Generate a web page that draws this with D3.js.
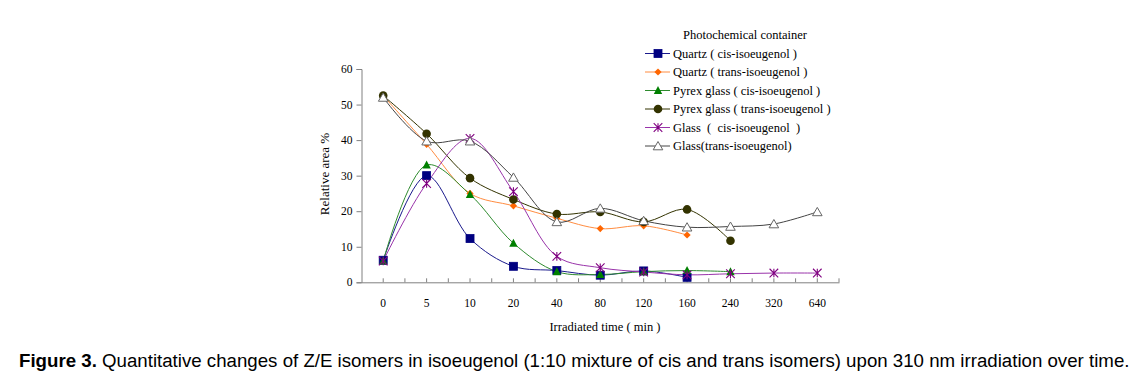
<!DOCTYPE html>
<html><head><meta charset="utf-8">
<script src="https://cdn.jsdelivr.net/npm/d3@7"></script>
<style>
html,body{margin:0;padding:0;background:#fff;}
svg{display:block;}
text{font-family:"Liberation Serif","Times New Roman",serif;fill:#000;}
</style></head>
<body>
<svg id="chart" width="1139" height="378"></svg>
<script>
const categories = ["0","5","10","20","40","80","120","160","240","320","640"];
const yTicks = [0,10,20,30,40,50,60];
const seriesNames = ["Quartz ( cis-isoeugenol )","Quartz ( trans-isoeugenol )","Pyrex glass ( cis-isoeugenol )","Pyrex glass ( trans-isoeugenol )","Glass  (  cis-isoeugenol  )","Glass(trans-isoeugenol)"];
const quartzCis   = [6.2, 30.0, 12.3, 4.5, 3.3, 2.0, 3.2, 1.4, null, null, null];
const quartzTrans = [52.5, 38.8, 25.0, 21.5, 18.0, 15.1, 15.9, 13.3, null, null, null];
const pyrexCis    = [6.0, 33.0, 24.7, 11.0, 3.0, 2.2, 3.0, 3.3, 3.0, null, null];
const pyrexTrans  = [52.5, 41.8, 29.3, 23.3, 19.2, 19.8, 17.0, 20.5, 11.7, null, null];
const glassCis    = [6.0, 27.8, 40.5, 25.5, 7.3, 4.1, 2.9, 2.1, 2.4, 2.6, 2.6];
const glassTrans  = [52.0, 39.7, 39.7, 29.5, 17.0, 20.8, 17.3, 15.5, 15.7, 16.4, 19.8];
const caption = "Quantitative changes of Z/E isomers in isoeugenol (1:10 mixture of cis and trans isomers) upon 310 nm irradiation over time.";

const svg = d3.select("#chart");
const x = d3.scaleBand().domain(categories).range([361.5, 839]);
const y = d3.scaleLinear().domain([0, 60]).range([282.3, 69]);

const styles = [
  {data: quartzCis,   line:"#1a1a8c", fill:"#000080", stroke:"#000080", m:"square"},
  {data: quartzTrans, line:"#ff8c40", fill:"#ff6600", stroke:"#ff6600", m:"diamond"},
  {data: pyrexCis,    line:"#2e8b2e", fill:"#008000", stroke:"#008000", m:"triangle"},
  {data: pyrexTrans,  line:"#333300", fill:"#333300", stroke:"#333300", m:"circle"},
  {data: glassCis,    line:"#9933aa", fill:"none",    stroke:"#800080", m:"star"},
  {data: glassTrans,  line:"#444444", fill:"#ffffff", stroke:"#666666", m:"opentri"}
];

const gy = svg.append("g").attr("transform", `translate(${x.range()[0]},0)`)
  .call(d3.axisLeft(y).tickValues(yTicks).tickSize(5).tickPadding(4));
gy.select(".domain").attr("stroke", "#808080");
gy.selectAll(".tick line").attr("stroke", "#808080");
gy.selectAll("text").style("font-family", "Liberation Serif").style("font-size", "11.5px");

const gx = svg.append("g").attr("transform", `translate(0,${y(0)})`)
  .call(d3.axisBottom(x).tickSize(0).tickPadding(17));
gx.select(".domain").attr("stroke", "#808080");
gx.selectAll("text").style("font-family", "Liberation Serif").style("font-size", "11.5px");
const tickPos = [];
categories.forEach(c => { tickPos.push(x(c) + x.bandwidth()/2); tickPos.push(x(c) + x.bandwidth()); });
gx.selectAll(".itick").data(tickPos).enter().append("line")
  .attr("x1", d => d).attr("x2", d => d).attr("y1", 0).attr("y2", -4)
  .attr("stroke", "#808080");

svg.append("text").attr("transform", "translate(329,174) rotate(-90)")
  .attr("text-anchor", "middle").style("font-size", "13px").text("Relative area %");
svg.append("text").attr("x", 605).attr("y", 331)
  .attr("text-anchor", "middle").style("font-size", "12.5px").text("Irradiated time ( min )");

function marker(g, type, cx, cy, s) {
  if (type === "square") {
    g.append("rect").attr("x", cx-4).attr("y", cy-4).attr("width", 8).attr("height", 8)
      .attr("fill", s.fill).attr("stroke", s.stroke).attr("stroke-width", 0.8);
  } else if (type === "diamond") {
    g.append("path").attr("d", `M${cx},${cy-3.6}L${cx+3.6},${cy}L${cx},${cy+3.6}L${cx-3.6},${cy}Z`)
      .attr("fill", s.fill);
  } else if (type === "triangle") {
    g.append("path").attr("d", `M${cx},${cy-4.5}L${cx+4.2},${cy+3.5}L${cx-4.2},${cy+3.5}Z`)
      .attr("fill", s.fill);
  } else if (type === "circle") {
    g.append("circle").attr("cx", cx).attr("cy", cy).attr("r", 4.3).attr("fill", s.fill);
  } else if (type === "star") {
    const r = 4.3;
    g.append("path").attr("d",
      `M${cx-r},${cy-r}L${cx+r},${cy+r}M${cx-r},${cy+r}L${cx+r},${cy-r}M${cx},${cy-r}L${cx},${cy+r}`)
      .attr("stroke", s.stroke).attr("stroke-width", 1.1).attr("fill", "none");
  } else if (type === "opentri") {
    g.append("path").attr("d", `M${cx},${cy-4.5}L${cx+4.8},${cy+3.8}L${cx-4.8},${cy+3.8}Z`)
      .attr("fill", s.fill).attr("stroke", s.stroke).attr("stroke-width", 1);
  }
}

const lineGen = d3.line()
  .defined(d => d.v != null)
  .x(d => x(d.c) + x.bandwidth()/2)
  .y(d => y(d.v))
  .curve(d3.curveCatmullRom.alpha(0.5));

const plot = svg.append("g");
styles.forEach(s => {
  const pts = categories.map((c, i) => ({c, v: s.data[i]})).filter(d => d.v != null);
  plot.append("path").datum(pts).attr("d", lineGen)
    .attr("fill", "none").attr("stroke", s.line).attr("stroke-width", 1);
});
styles.forEach(s => {
  const g = plot.append("g");
  categories.forEach((c, i) => {
    const v = s.data[i];
    if (v == null) return;
    marker(g, s.m, x(c) + x.bandwidth()/2, y(v), s);
  });
});

const lg = svg.append("g");
lg.append("text").attr("x", 745).attr("y", 39).attr("text-anchor", "middle")
  .style("font-size", "12.5px").text("Photochemical container");
seriesNames.forEach((n, i) => {
  const ly = 53.5 + i * 18.5;
  const s = styles[i];
  lg.append("line").attr("x1", 645).attr("x2", 670).attr("y1", ly).attr("y2", ly)
    .attr("stroke", s.line).attr("stroke-width", 1);
  marker(lg, s.m, 658, ly, s);
  lg.append("text").attr("x", 673).attr("y", ly + 4.3).attr("xml:space", "preserve")
    .style("white-space", "pre").style("font-size", "12.5px").text(n);
});

const cap = svg.append("text").attr("x", 19).attr("y", 367)
  .style("font-family", "Liberation Sans, Arial, sans-serif").style("font-size", "15.5px");
cap.append("tspan").style("font-weight", "bold").text("Figure 3.");
cap.append("tspan").attr("xml:space", "preserve").text(" " + caption);
const w = cap.node().getComputedTextLength();
cap.style("font-size", (15.5 * 1111 / w).toFixed(2) + "px");
</script>
</body></html>
